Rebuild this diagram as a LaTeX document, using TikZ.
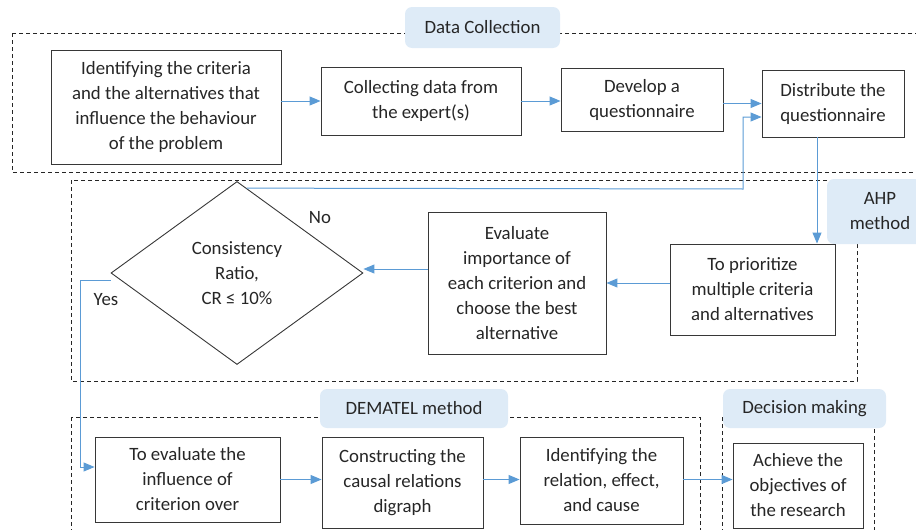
\documentclass[tikz,border=0pt]{standalone}
\usepackage{fontspec}
\setmainfont{Carlito}
\usetikzlibrary{shapes.geometric,arrows.meta,calc}
\definecolor{arrblue}{RGB}{91,155,213}
\definecolor{lblfill}{RGB}{222,235,247}
\definecolor{boxline}{RGB}{55,55,55}
\begin{document}
\begin{tikzpicture}[x=1pt,y=-1pt,
  every node/.style={font=\fontsize{18.8}{25}\selectfont, align=center, inner sep=0pt, text=black!85},
  stepbox/.style={draw=boxline, line width=0.9pt, fill=white},
  grp/.style={draw=black!85, line width=0.8pt, dash pattern=on 4pt off 3pt},
  lbl/.style={fill=lblfill, rounded corners=7pt},
  arr/.style={draw=arrblue, line width=1pt, -{Triangle[length=11pt,width=9pt]}}]
\useasboundingbox (0,0) rectangle (916,530);
\clip (0,0) rectangle (916,530);
% group frames
\draw[grp] (12,33) rectangle (925,172);
\draw[grp] (71,180) rectangle (857,381);
\draw[grp] (71,417) rectangle (700,545);
\draw[grp] (722,417) rectangle (874,545);
% group labels
\node[lbl, minimum width=155pt, minimum height=41pt] (ldc) at (482.5,27.5) {Data Collection};
\node[lbl, minimum width=106pt, minimum height=65pt] (lahp) at (880,211.5) {AHP\\method};
\node[lbl, minimum width=188pt, minimum height=39pt] (ldem) at (414,408.5) {DEMATEL method};
\node[lbl, minimum width=163pt, minimum height=39pt] (ldm) at (804.5,408.5) {Decision making};
% boxes
\node[stepbox, minimum width=230pt, minimum height=114pt] (b1) at (166,107) {Identifying the criteria\\and the alternatives that\\influence the behaviour\\of the problem};
\node[stepbox, minimum width=200pt, minimum height=68pt] (b2) at (421,101) {Collecting data from\\the expert(s)};
\node[stepbox, minimum width=162pt, minimum height=63pt] (b3) at (642,99.5) {Develop a\\questionnaire};
\node[stepbox, minimum width=142pt, minimum height=67pt] (b4) at (833,103.5) {Distribute the\\questionnaire};
\node[stepbox, minimum width=165pt, minimum height=91pt] (prio) at (752.5,289.5) {To prioritize\\multiple criteria\\and alternatives};
\node[stepbox, minimum width=178pt, minimum height=142pt] (eval) at (517,283) {Evaluate\\importance of\\each criterion and\\choose the best\\alternative};
\node[draw=boxline, line width=0.9pt, shape=diamond, aspect=1.377, minimum width=252pt, minimum height=183pt] (dia) at (237,273) {Consistency\\Ratio,\\CR ≤ 10\%};
\node[stepbox, minimum width=185pt, minimum height=85pt] (e1) at (187.5,479.5) {To evaluate the\\influence of\\criterion over};
\node[stepbox, minimum width=161pt, minimum height=91pt] (e2) at (402.5,482.5) {Constructing the\\causal relations\\digraph};
\node[stepbox, minimum width=163pt, minimum height=87pt] (e3) at (601.5,480.5) {Identifying the\\relation, effect,\\and cause};
\node[stepbox, minimum width=130pt, minimum height=85pt] (dm) at (798,485.5) {Achieve the\\objectives of\\the research};
% branch labels
\node (no) at (320,218) {No};
\node (yes) at (106,300) {Yes};
% connectors
\draw[arr] (b1.east |- b2.west) -- (b2.west);
\draw[arr] (b2.east) -- (b2.east -| b3.west);
\draw[arr] (b3.east |- b4.west) -- (b4.west);
\coordinate (fbs) at ($(dia.north)!0.077!(dia.east)$);
\coordinate (fbc) at (743,189);
\coordinate (fbe) at ($(b4.west)+(0,13.5)$);
\draw[arr] (fbs) -- (fbc) |- (fbe);
\coordinate (b4s) at ($(b4.south)+(-16,0)$);
\draw[arr] (b4s) -- (b4s |- prio.north);
\draw[arr] (prio.west |- eval.east) -- (eval.east);
\coordinate (ew) at ($(eval.west)+(0,-14)$);
\draw[arr] (ew) -- (ew -| dia.east);
\coordinate (ys) at ($(dia.west)+(0,7)$);
\coordinate (ye) at ($(e1.west)+(0,-12.5)$);
\draw[arr] (ys) -- ++(-30,0) |- (ye);
\draw[arr] (e1.east) -- (e1.east -| e2.west);
\draw[arr] (e2.east |- e1.east) -- (e3.west |- e1.east);
\draw[arr] (e3.east |- e1.east) -- (dm.west |- e1.east);
\end{tikzpicture}
\end{document}
